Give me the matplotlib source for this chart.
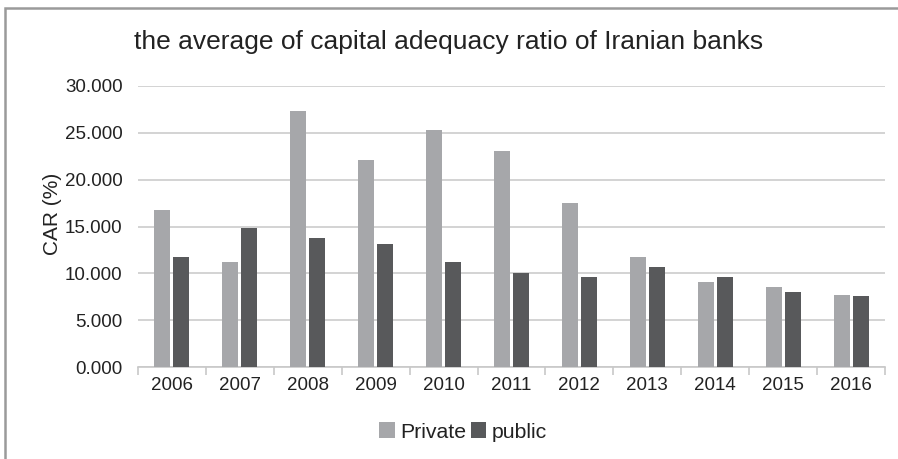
import matplotlib.pyplot as plt
from matplotlib.patches import Rectangle
from matplotlib.ticker import FormatStrFormatter
import numpy as np

plt.rcParams['font.family'] = ['Liberation Sans', 'DejaVu Sans']

years = ["2006", "2007", "2008", "2009", "2010", "2011", "2012", "2013", "2014", "2015", "2016"]
private = [16.74, 11.19, 27.30, 22.08, 25.29, 23.05, 17.49, 11.72, 9.05, 8.51, 7.66]
public = [11.72, 14.85, 13.75, 13.11, 11.19, 10.01, 9.58, 10.65, 9.58, 7.98, 7.55]

PRIV_COLOR = "#a6a7aa"
PUB_COLOR = "#58595b"
TXT = "#222222"

fig = plt.figure(figsize=(8.98, 4.59), dpi=100)
ax = fig.add_axes([138/898, 1-367/459, (885-138)/898, (367-86)/459])

x = np.arange(len(years))
w = 0.236
ax.bar(x - 0.14, private, width=w, color=PRIV_COLOR, label="Private", zorder=3)
ax.bar(x + 0.14, public, width=w, color=PUB_COLOR, label="public", zorder=3)

ax.set_xlim(-0.5, len(years) - 0.5)
ax.set_ylim(0, 30)
ax.set_yticks(np.arange(0, 30.1, 5))
ax.yaxis.set_major_formatter(FormatStrFormatter("%.3f"))
ax.grid(axis="y", color="#d0d0d0", linewidth=1.3, zorder=0)

ax.set_xticks(x)
ax.set_xticklabels(years)
ax.set_xticks(np.arange(-0.5, len(years), 1), minor=True)
ax.tick_params(axis="x", which="major", length=0, pad=7, labelsize=13.5, colors=TXT)
ax.tick_params(axis="x", which="minor", length=6, color="#c8c8c8", width=1.2)
ax.tick_params(axis="y", length=0, pad=11, labelsize=13.5, labelcolor=TXT)

for s in ["top", "right", "left"]:
    ax.spines[s].set_visible(False)
ax.spines["bottom"].set_color("#c8c8c8")
ax.spines["bottom"].set_linewidth(1.2)

fig.text(53/898, 1-214/459, "CAR (%)", rotation=90, ha="center", va="center",
         fontsize=15, color=TXT)

fig.text(0.5, 1-42/459, "the average of capital adequacy ratio of Iranian banks",
         ha="center", va="center", fontsize=19, color=TXT)

fig.legend(loc="center", bbox_to_anchor=(463/898, 1-432/459), ncol=2, frameon=False,
           fontsize=15.3, handlelength=0.75, handleheight=0.75, handletextpad=0.25,
           columnspacing=0.2, labelcolor=TXT)

# outer frame (cut off on the right and bottom in the original)
fig.patches.append(Rectangle((5/898, -0.1), 1.2, 1.1 - 8/459, transform=fig.transFigure,
                             fill=False, edgecolor="#9a9a9a", linewidth=1.8))

fig.savefig("out.png", dpi=100)
